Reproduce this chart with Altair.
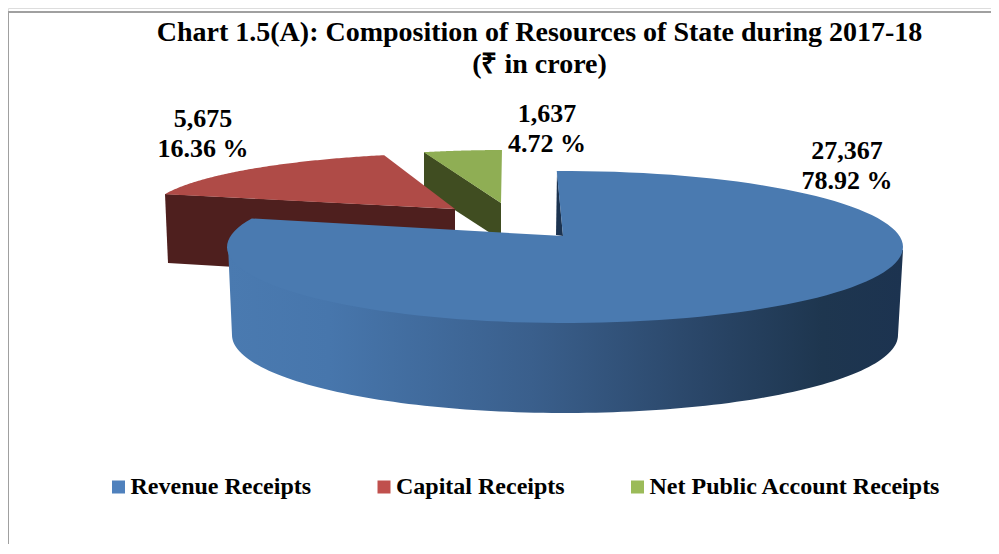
import numpy as np
import pandas as pd
import altair as alt

categories = ["Revenue Receipts", "Capital Receipts", "Net Public Account Receipts"]
values = [27367, 5675, 1637]
percents = ["78.92 %", "16.36 %", "4.72 %"]
legend_colors = ["#4F81BD", "#C0504D", "#9BBB59"]
title_lines = ["Chart 1.5(A): Composition of Resources of State during 2017-18", "(₹ in crore)"]

FONT = "Liberation Serif"
W, H = 983, 536
X = alt.X("x:Q", scale=alt.Scale(domain=[8, 991], range=[0, W]), axis=None)
Y = alt.Y("y:Q", scale=alt.Scale(domain=[544, 8], range=[H, 0]), axis=None)

total = sum(values)
frac = [v / total for v in values]


def arc(cx, cy, rx, ry, t0, t1, n=120):
    t = np.radians(np.linspace(t0, t1, n))
    return list(zip(cx + rx * np.cos(t), cy + ry * np.sin(t)))


def shape(points, fill):
    df = pd.DataFrame(points, columns=["x", "y"])
    df["i"] = range(len(df))
    return alt.Chart(df).mark_line(fill=fill, strokeWidth=0, opacity=1).encode(
        x=X, y=Y, order=alt.Order("i:Q")
    )


# Top faces: each slice's sweep comes from its value, on the tilted ellipse
blue_end = -91.4 + 360 * frac[0] * 1.033
blue_top = arc(565, 247, 338, 76, -91.4, blue_end) + [(563, 236)]
red_start = 197.6
red_top = arc(470, 212, 320, 59, red_start, red_start + 360 * frac[1] * 0.965) + [(455, 209)]
green_start = 254.3
green_top = arc(505, 208, 300, 58, green_start, green_start + 360 * frac[2] * 0.89) + [(501, 203)]

# Sides
blue_side = [(228, 245)] + arc(565, 335, 333, 78, 180, 0) + [(903, 250)]
blue_wedge = [(557, 172), (563, 236), (556, 235)]
red_side = [(165, 194), (455, 209), (455, 280), (168, 263)]
green_side = [(424, 152), (501, 203), (501, 240), (424, 190)]

side_gradient = alt.Gradient(
    gradient="linear", x1=0, x2=1, y1=0, y2=0,
    stops=[
        alt.GradientStop(color="#4A7AB0", offset=0),
        alt.GradientStop(color="#4776AC", offset=0.15),
        alt.GradientStop(color="#3A5F8C", offset=0.45),
        alt.GradientStop(color="#2A4668", offset=0.7),
        alt.GradientStop(color="#1E364F", offset=0.88),
        alt.GradientStop(color="#1C3350", offset=1),
    ],
)

border_h = alt.Chart(pd.DataFrame({"x": [8], "x2": [991], "y": [12]})).mark_rule(
    color="#A0A0A0", strokeWidth=2
).encode(x=X, x2="x2:Q", y=Y)
border_v = alt.Chart(pd.DataFrame({"x": [8], "y": [12], "y2": [544]})).mark_rule(
    color="#A0A0A0", strokeWidth=2
).encode(x=X, y=Y, y2="y2:Q")

legend_layer = alt.Chart(pd.DataFrame({"cat": categories, "x": [100, 100, 100], "y": [100, 100, 100]})).mark_square(
    size=0, opacity=1
).encode(
    x=X, y=Y,
    color=alt.Color(
        "cat:N",
        scale=alt.Scale(domain=categories, range=legend_colors),
        legend=alt.Legend(
            title=None, orient="none", direction="horizontal", columns=3,
            legendX=98.5, legendY=467,
            symbolType="square", symbolSize=169, symbolStrokeWidth=0, symbolOpacity=1,
            labelFont=FONT, labelFontSize=24, labelFontWeight="bold", labelColor="#000000",
            labelOffset=0, columnPadding=60.5, labelLimit=400, padding=0,
        ),
    ),
)

label_pos = {0: (847, 159), 1: (203, 127), 2: (547, 122)}
label_rows = []
for k in range(3):
    px, py = label_pos[k]
    label_rows.append({"x": px, "y": py, "t": f"{values[k]:,}"})
    label_rows.append({"x": px, "y": py + 30, "t": percents[k]})
labels = alt.Chart(pd.DataFrame(label_rows)).mark_text(
    font=FONT, fontSize=26, fontWeight="bold", color="#000000", baseline="alphabetic", align="center"
).encode(x=X, y=Y, text="t:N")

chart = alt.layer(
    legend_layer,
    border_h, border_v,
    shape(green_side, "#404D21"),
    shape(red_side, "#4E1F1E"),
    shape(green_top, "#8FAE54"),
    shape(red_top, "#AF4B47"),
    shape(blue_side, side_gradient),
    shape(blue_wedge, "#1C3350"),
    shape(blue_top, "#4A7AB0"),
    labels,
).properties(
    width=W, height=H, padding=0,
    autosize=alt.AutoSizeParams(type="none"),
    title=alt.TitleParams(
        text=title_lines, font=FONT, fontSize=28, fontWeight="bold", color="#000000",
        anchor="middle", dx=40, dy=93, lineHeight=32, baseline="alphabetic", offset=0,
    ),
).configure_view(stroke=None).configure(background="#FFFFFF")

chart.save("out.html", embed_options={"renderer": "svg", "actions": False})
